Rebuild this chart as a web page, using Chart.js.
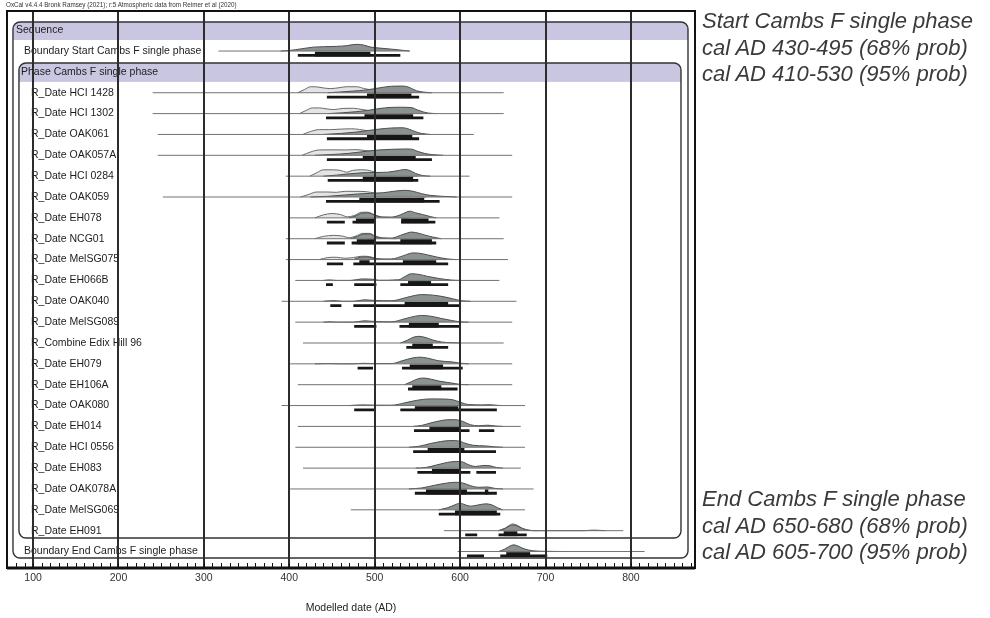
<!DOCTYPE html>
<html>
<head>
<meta charset="utf-8">
<title>Cambs F single phase</title>
<script src="https://cdn.jsdelivr.net/npm/chart.js@4.4.1/dist/chart.umd.min.js"></script>
<style>
  body { margin: 0; background: #fff; font-family: "Liberation Sans", Arial, sans-serif; }
  #wrap { position: relative; width: 990px; height: 618px; }
  #credito { position: absolute; left: 6px; top: 1px; font-size: 6.3px; color: #333; white-space: nowrap; }
  .resumo { position: absolute; left: 702px; font-size: 22px; font-style: italic; line-height: 26.7px; color: #3a3a3a; white-space: nowrap; }
</style>
</head>
<body>
<div id="wrap">
  <canvas id="graficoOxcal"></canvas>
  <div id="credito">OxCal v4.4.4 Bronk Ramsey (2021); r:5 Atmospheric data from Reimer et al (2020)</div>
  <div class="resumo" id="resumo-inicio" style="top:8px"></div>
  <div class="resumo" id="resumo-fim" style="top:486px"></div>
</div>
<script>
// Nomes das linhas, de cima para baixo (0 = Sequence, 2 = Phase)
const linhas = [
    'Sequence',
    'Boundary Start Cambs F single phase',
    'Phase Cambs F single phase',
    'R_Date HCI 1428',
    'R_Date HCI 1302',
    'R_Date OAK061',
    'R_Date OAK057A',
    'R_Date HCI 0284',
    'R_Date OAK059',
    'R_Date EH078',
    'R_Date NCG01',
    'R_Date MelSG075',
    'R_Date EH066B',
    'R_Date OAK040',
    'R_Date MelSG089',
    'R_Combine Edix Hill 96',
    'R_Date EH079',
    'R_Date EH106A',
    'R_Date OAK080',
    'R_Date EH014',
    'R_Date HCI 0556',
    'R_Date EH083',
    'R_Date OAK078A',
    'R_Date MelSG069',
    'R_Date EH091',
    'Boundary End Cambs F single phase'
];

// Linha fina (extensão da distribuição) em anos AD
const faixaLinha = [
    null, [317, 541], null,
    [240, 651], [240, 651], [246, 616], [246, 661], [396, 611], [252, 661],
    [400, 646], [396, 651], [396, 656], [407, 646], [391, 666], [407, 661],
    [416, 651], [401, 661], [410, 661], [391, 676], [410, 671], [407, 676],
    [416, 671], [401, 686], [472, 676], [581, 791], [597, 816]
];

// Distribuição não modelada (cinza claro): [ano, altura relativa]
const curvaClara = [
    null, null, null,
    [[410,0],[418,0.5],[425,0.9],[432,0.88],[440,0.72],[448,0.62],[458,0.75],[467,0.9],[479,0.9],[487,0.65],[495,0.45],[510,0.3],[530,0.15],[550,0.05],[565,0]],
    [[412,0],[420,0.5],[427,0.85],[435,0.85],[443,0.72],[452,0.6],[463,0.78],[475,0.8],[485,0.62],[495,0.42],[510,0.3],[530,0.15],[550,0.05],[565,0]],
    [[416,0],[425,0.45],[435,0.72],[447,0.72],[460,0.8],[473,0.85],[482,0.75],[492,0.55],[505,0.4],[520,0.25],[540,0.1],[560,0]],
    [[415,0],[425,0.5],[435,0.8],[450,0.82],[465,0.8],[478,0.85],[490,0.7],[505,0.5],[520,0.3],[540,0.15],[560,0.05],[575,0]],
    [[424,0],[432,0.5],[440,0.95],[452,0.95],[460,0.85],[467,0.6],[474,0.85],[483,0.95],[492,0.9],[500,0.6],[512,0.35],[530,0.15],[550,0]],
    [[413,0],[422,0.35],[432,0.75],[445,0.75],[455,0.7],[465,0.85],[478,0.85],[490,0.8],[500,0.6],[515,0.35],[535,0.15],[560,0]],
    [[430,0],[440,0.45],[450,0.65],[460,0.5],[468,0.15],[476,0.35],[485,0.85],[492,0.85],[500,0.45],[510,0.1],[525,0.05],[540,0]],
    [[430,0],[440,0.35],[452,0.5],[462,0.4],[470,0.15],[478,0.4],[486,0.8],[494,0.8],[500,0.45],[510,0.1],[525,0]],
    [[435,0],[445,0.3],[455,0.35],[465,0.2],[475,0.3],[485,0.5],[494,0.45],[502,0.15],[515,0]],
    null, null, null, null, null, null, null, null, null, null, null, null,
    [[645,0],[653,0.4],[659,0.9],[662,1.0],[667,0.8],[673,0.35],[682,0.05],[690,0]],
    null
];

// Distribuição modelada (cinza escuro): [ano, altura relativa]
const curvaEscura = [
    null,
    [[390,0],[400,0.08],[415,0.35],[428,0.58],[440,0.65],[455,0.7],[467,0.8],[475,0.97],[480,1.0],[487,0.9],[495,0.6],[505,0.45],[520,0.28],[532,0.12],[541,0]],
    null,
    [[445,0],[460,0.12],[475,0.25],[490,0.42],[505,0.72],[520,0.98],[530,1.0],[537,0.95],[543,0.65],[549,0.3],[557,0.1],[567,0]],
    [[445,0],[462,0.12],[478,0.28],[492,0.48],[505,0.75],[518,0.92],[530,0.95],[543,0.9],[550,0.55],[557,0.25],[563,0.08],[572,0]],
    [[440,0],[460,0.15],[478,0.35],[493,0.6],[505,0.8],[520,0.97],[533,1.0],[541,0.75],[548,0.4],[555,0.15],[565,0]],
    [[430,0],[450,0.12],[470,0.3],[490,0.6],[505,0.8],[520,0.9],[535,0.95],[543,0.92],[550,0.6],[558,0.3],[567,0.1],[580,0]],
    [[440,0],[455,0.15],[470,0.35],[485,0.5],[500,0.55],[515,0.6],[528,0.85],[535,1.0],[541,0.85],[548,0.4],[556,0.1],[565,0]],
    [[425,0],[445,0.1],[465,0.3],[480,0.45],[495,0.55],[510,0.65],[522,0.85],[535,1.0],[545,0.85],[555,0.5],[565,0.25],[580,0.1],[596,0]],
    [[470,0],[478,0.3],[485,0.7],[492,0.75],[500,0.4],[508,0.12],[520,0.12],[530,0.45],[537,0.85],[541,1.0],[548,0.75],[556,0.5],[565,0.2],[572,0]],
    [[472,0],[480,0.35],[487,0.7],[494,0.72],[500,0.35],[508,0.1],[520,0.1],[530,0.5],[538,0.85],[543,1.0],[552,0.8],[560,0.5],[568,0.25],[578,0]],
    [[475,0],[483,0.35],[490,0.4],[497,0.25],[505,0.08],[520,0.1],[533,0.55],[545,1.0],[552,0.95],[562,0.7],[572,0.4],[585,0.1],[595,0]],
    [[440,0],[447,0.08],[455,0],[472,0],[485,0.22],[497,0.18],[505,0.02],[528,0.1],[535,0.55],[543,1.0],[552,0.9],[562,0.6],[575,0.3],[590,0.05],[600,0]],
    [[440,0],[452,0.1],[462,0],[475,0],[488,0.22],[500,0.12],[520,0.08],[535,0.5],[548,0.9],[555,1.0],[568,0.92],[580,0.7],[592,0.35],[602,0.08],[612,0]],
    [[440,0],[447,0.05],[455,0],[475,0],[488,0.2],[500,0.1],[520,0.05],[535,0.5],[548,0.9],[555,1.0],[565,0.9],[578,0.55],[590,0.25],[600,0.05],[610,0]],
    [[530,0],[538,0.4],[545,0.85],[552,1.0],[560,0.8],[568,0.45],[578,0.15],[590,0.04],[600,0]],
    [[430,0],[445,0.04],[460,0],[475,0],[487,0.08],[497,0.04],[520,0.04],[532,0.45],[545,0.9],[553,1.0],[562,0.85],[575,0.45],[590,0.3],[600,0.1],[610,0]],
    [[535,0],[543,0.45],[550,0.85],[557,1.0],[565,0.85],[575,0.55],[590,0.25],[600,0.05],[610,0]],
    [[470,0],[485,0.1],[500,0.06],[520,0.05],[535,0.4],[550,0.8],[565,1.0],[580,0.98],[592,0.85],[600,0.5],[610,0.15],[625,0.1],[635,0.12],[645,0.02],[650,0]],
    [[545,0],[555,0.15],[565,0.5],[575,0.8],[585,1.0],[595,1.0],[603,0.75],[612,0.25],[622,0.1],[632,0.18],[642,0.05],[650,0]],
    [[540,0],[552,0.15],[565,0.55],[577,0.85],[588,1.0],[598,0.95],[606,0.6],[615,0.3],[630,0.2],[642,0.05],[650,0]],
    [[548,0],[560,0.1],[572,0.45],[585,0.85],[595,1.0],[602,0.95],[610,0.5],[618,0.25],[628,0.4],[635,0.35],[643,0.08],[650,0]],
    [[540,0],[555,0.15],[570,0.55],[585,0.9],[595,1.0],[603,0.9],[612,0.5],[622,0.25],[632,0.3],[640,0.1],[650,0]],
    [[575,0],[585,0.3],[594,0.75],[600,1.0],[606,0.75],[612,0.55],[620,0.7],[630,0.9],[637,0.75],[644,0.3],[650,0]],
    [[645,0],[653,0.35],[659,0.8],[662,0.85],[667,0.7],[673,0.3],[682,0.03],[690,0],[745,0],[756,0.08],[770,0]],
    [[645,0],[652,0.35],[658,0.8],[663,1.0],[668,0.8],[675,0.4],[685,0.12],[700,0.03],[720,0]]
];

// Intervalos de 68% e 95% (barras pretas)
const intervalo68 = [
    null, [[430,495]], null,
    [[491,543]], [[488,545]], [[491,544]], [[486,548]], [[486,545]], [[482,558]],
    [[478,500],[531,563]], [[479,500],[530,567]], [[482,494],[533,572]], [[539,566]], [[535,586]], [[540,575]],
    [[544,568]], [[541,580]], [[544,578]], [[547,598]], [[564,600]], [[562,605]],
    [[567,601]], [[560,608],[629,633]], [[594,643]], [[651,667]], [[654,682]]
];
const intervalo95 = [
    null, [[410,530]], null,
    [[444,552]], [[443,557]], [[444,552]], [[444,567]], [[445,551]], [[443,576]],
    [[444,465],[474,500],[531,571]], [[444,465],[473,572]], [[444,463],[475,586]], [[443,451],[476,502],[530,586]], [[448,461],[475,601]], [[476,502],[529,601]],
    [[537,586]], [[480,498],[532,603]], [[539,597]], [[476,501],[530,643]], [[546,611],[622,640]], [[545,642]],
    [[550,612],[619,642]], [[547,643]], [[575,647]], [[606,620],[645,678]], [[608,628],[647,702]]
];

// Rótulos do eixo X
const anosEixo = [100, 200, 300, 400, 500, 600, 700, 800];

// Textos de resumo à direita
const resumoInicio = ['Start Cambs F single phase', 'cal AD 430-495 (68% prob)', 'cal AD 410-530 (95% prob)'];
const resumoFim = ['End Cambs F single phase', 'cal AD 650-680 (68% prob)', 'cal AD 605-700 (95% prob)'];

const ALTURA_CURVA = 0.32; // altura máxima das curvas, em unidades de linha
const FONTE = '"Liberation Sans", Arial, sans-serif';

let graficoOxcalInstance = null;

/**
 * @description Converte [ano, altura] em pontos acima da linha base.
 */
function pontosCurva(curva, r) {
    return curva.map(([ano, h]) => ({ x: ano, y: r - h * ALTURA_CURVA }));
}

/**
 * @description Junta os segmentos de um intervalo com lacunas entre eles.
 */
function pontosIntervalos(lista, yLinha) {
    const pts = [];
    lista.forEach(([a, b], i) => {
        if (i > 0) pts.push({ x: a, y: null });
        pts.push({ x: a, y: yLinha }, { x: b, y: yLinha });
    });
    return pts;
}

/**
 * @description Desenha uma caixa arredondada com a faixa lilás no topo.
 */
function desenharCaixa(ctx, x, y, x0, x1, r0, rFaixa, r1) {
    const l = x.getPixelForValue(x0), d = x.getPixelForValue(x1);
    const t = y.getPixelForValue(r0), b = y.getPixelForValue(r1), fb = y.getPixelForValue(rFaixa);
    const raio = 7;
    ctx.save();
    ctx.beginPath();
    ctx.moveTo(l + raio, t);
    ctx.lineTo(d - raio, t);
    ctx.arcTo(d, t, d, t + raio, raio);
    ctx.lineTo(d, b - raio);
    ctx.arcTo(d, b, d - raio, b, raio);
    ctx.lineTo(l + raio, b);
    ctx.arcTo(l, b, l, b - raio, raio);
    ctx.lineTo(l, t + raio);
    ctx.arcTo(l, t, l + raio, t, raio);
    ctx.closePath();
    ctx.fillStyle = '#fff';
    ctx.fill();
    ctx.save();
    ctx.clip();
    ctx.fillStyle = '#c9c6e1';
    ctx.fillRect(l, t, d - l, fb - t);
    ctx.restore();
    ctx.lineWidth = 1.4;
    ctx.strokeStyle = '#333';
    ctx.stroke();
    ctx.restore();
}

const pluginMoldura = {
    id: 'moldura',
    beforeDatasetsDraw(chart) {
        const { ctx, scales: { x, y } } = chart;
        desenharCaixa(ctx, x, y, 76.5, 866.8, -0.39, 0.47, 25.31);
        desenharCaixa(ctx, x, y, 83.5, 858.6, 1.57, 2.48, 24.35);

        ctx.save();
        ctx.font = '10.5px ' + FONTE;
        ctx.fillStyle = '#1c1c1c';
        ctx.textBaseline = 'middle';
        linhas.forEach((nome, r) => {
            let px = 31;
            if (r === 0) px = 16;
            else if (r === 2) px = 21;
            else if (nome.startsWith('Boundary')) px = 24;
            ctx.fillText(nome, px, y.getPixelForValue(r));
        });
        ctx.restore();
    },
    afterDraw(chart) {
        const { ctx, chartArea: a, scales: { x } } = chart;
        ctx.save();
        ctx.strokeStyle = '#111';
        ctx.lineWidth = 2;
        ctx.strokeRect(a.left, a.top, a.right - a.left, a.bottom - a.top);
        ctx.lineWidth = 3;
        ctx.beginPath();
        ctx.moveTo(a.left, a.bottom);
        ctx.lineTo(a.right, a.bottom);
        ctx.stroke();
        // marcas menores a cada 10 anos
        ctx.lineWidth = 1;
        ctx.beginPath();
        for (let ano = 70; ano <= 870; ano += 10) {
            const px = Math.round(x.getPixelForValue(ano)) + 0.5;
            ctx.moveTo(px, a.bottom);
            ctx.lineTo(px, a.bottom - 5);
        }
        ctx.stroke();
        ctx.restore();
    }
};

/**
 * @description Monta os datasets e renderiza o gráfico.
 */
function renderizarGrafico() {
    const datasets = [];
    linhas.forEach((nome, r) => {
        if (curvaClara[r]) {
            datasets.push({
                data: pontosCurva(curvaClara[r], r),
                fill: { value: r },
                backgroundColor: '#e4e4e4',
                borderColor: '#6a6a6a',
                borderWidth: 1,
                cubicInterpolationMode: 'monotone',
                order: 3
            });
        }
        if (curvaEscura[r]) {
            datasets.push({
                data: pontosCurva(curvaEscura[r], r),
                fill: { value: r },
                backgroundColor: '#8b9292',
                borderColor: '#4e4e4e',
                borderWidth: 1,
                cubicInterpolationMode: 'monotone',
                order: 2
            });
        }
        if (faixaLinha[r]) {
            datasets.push({
                data: [{ x: faixaLinha[r][0], y: r }, { x: faixaLinha[r][1], y: r }],
                borderColor: '#727272',
                borderWidth: 1,
                order: 1
            });
        }
        if (intervalo95[r]) {
            datasets.push({
                data: pontosIntervalos(intervalo95[r], r + 0.206),
                borderColor: '#161616',
                borderWidth: 2.8,
                borderCapStyle: 'butt',
                spanGaps: false,
                order: 0
            });
        }
        if (intervalo68[r]) {
            datasets.push({
                data: pontosIntervalos(intervalo68[r], r + 0.146),
                borderColor: '#161616',
                borderWidth: 4.8,
                borderCapStyle: 'butt',
                spanGaps: false,
                order: 0
            });
        }
    });

    const ctx = document.getElementById('graficoOxcal').getContext('2d');
    if (graficoOxcalInstance) {
        graficoOxcalInstance.destroy();
    }
    graficoOxcalInstance = new Chart(ctx, {
        type: 'line',
        data: { datasets },
        plugins: [pluginMoldura],
        options: {
            responsive: true,
            maintainAspectRatio: false,
            animation: false,
            events: [],
            layout: { padding: { left: 7, right: 295, top: 11, bottom: 0 } },
            elements: { point: { radius: 0 }, line: { tension: 0 } },
            scales: {
                x: {
                    type: 'linear',
                    min: 69.5,
                    max: 875,
                    afterBuildTicks: (scale) => { scale.ticks = anosEixo.map(v => ({ value: v })); },
                    afterFit: (scale) => { scale.height = 50; },
                    grid: { color: '#2c2c2c', lineWidth: 2, drawTicks: false, z: 1 },
                    border: { display: false },
                    ticks: { font: { family: FONTE, size: 10.5 }, color: '#333', padding: 4, maxRotation: 0 },
                    title: {
                        display: true,
                        text: 'Modelled date (AD)',
                        font: { family: FONTE, size: 10.5 },
                        color: '#222',
                        padding: { top: 0, bottom: 4 }
                    }
                },
                y: {
                    type: 'linear',
                    reverse: true,
                    min: -0.92,
                    max: 25.79,
                    display: false
                }
            },
            plugins: {
                legend: { display: false },
                tooltip: { enabled: false }
            }
        }
    });
}

document.getElementById('resumo-inicio').innerHTML = resumoInicio.join('<br>');
document.getElementById('resumo-fim').innerHTML = resumoFim.join('<br>');
renderizarGrafico();
</script>
</body>
</html>
